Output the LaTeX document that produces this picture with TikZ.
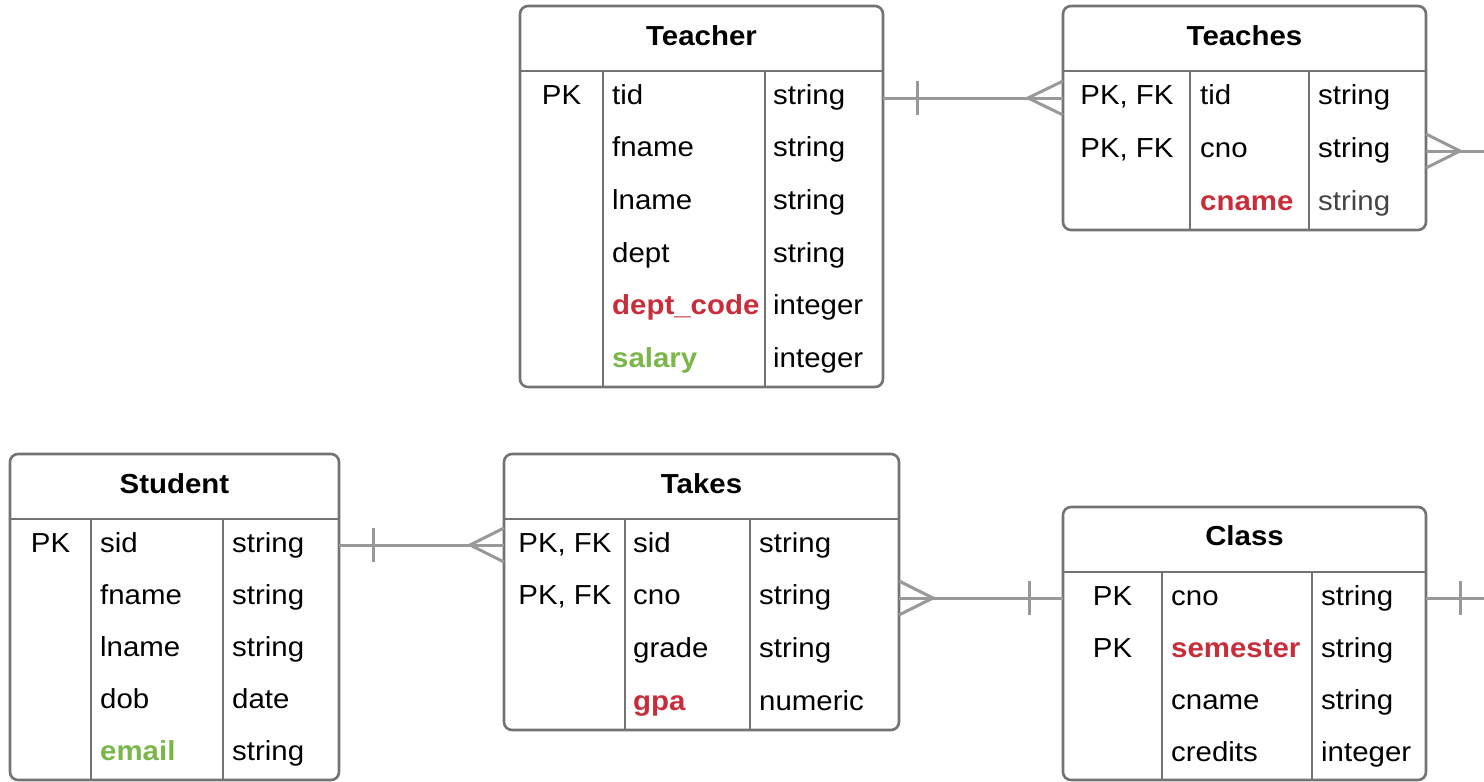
\documentclass[tikz,border=0pt]{standalone}
\usepackage{fontspec}
\setmainfont[FakeStretch=1.07]{Liberation Sans}
\usetikzlibrary{calc}
\definecolor{bord}{HTML}{737373}
\definecolor{connc}{HTML}{999999}
\definecolor{kred}{HTML}{C92D39}
\definecolor{kgreen}{HTML}{7AB648}
\definecolor{dgray}{HTML}{444444}
\tikzset{
  tbl/.style={draw=bord, line width=2.6pt, rounded corners=8pt, anchor=north west, inner sep=0pt, outer sep=0pt, fill=white},
  sepline/.style={draw=bord, line width=2.6pt},
  txt/.style={anchor=base west, inner sep=0pt, font=\fontsize{27.5}{32}\selectfont},
  ktxt/.style={anchor=base, inner sep=0pt, font=\fontsize{27.5}{32}\selectfont},
  hdr/.style={anchor=base, inner sep=0pt, font=\fontsize{27.5}{32}\selectfont\bfseries},
  kr/.style={text=kred, font=\fontsize{27.5}{32}\selectfont\bfseries},
  kg/.style={text=kgreen, font=\fontsize{27.5}{32}\selectfont\bfseries},
  conn/.style={draw=connc, line width=3pt},
}
\newcommand\fld[5]{\node[txt,#4] (#1) at (#2,#3) {#5};}
\newcommand\key[4]{\node[ktxt] (#1) at (#2,#3) {#4};}
\begin{document}
\begin{tikzpicture}[x=1pt,y=-1pt]
\useasboundingbox (0,0) rectangle (1484,782);

% ---------------- Teacher ----------------
\node[tbl, minimum width=363pt, minimum height=381pt] (teacher) at (520,6) {};
\draw[sepline] (520,71) -- (883,71);
\draw[sepline] (603,71) -- (603,387);
\draw[sepline] (765,71) -- (765,387);
\node[hdr] (teacher-h) at (701.5,45) {Teacher};
\key{teacher-k1}{561.5}{104}{PK}
\fld{teacher-n1}{612}{104}{}{tid}      \fld{teacher-t1}{773}{104}{}{string}
\fld{teacher-n2}{612}{156.7}{}{fname}  \fld{teacher-t2}{773}{156.7}{}{string}
\fld{teacher-n3}{612}{209.3}{}{lname}  \fld{teacher-t3}{773}{209.3}{}{string}
\fld{teacher-n4}{612}{262}{}{dept}     \fld{teacher-t4}{773}{262}{}{string}
\fld{teacher-n5}{612}{314.7}{kr}{dept\_code} \fld{teacher-t5}{773}{314.7}{}{integer}
\fld{teacher-n6}{612}{367.3}{kg}{salary} \fld{teacher-t6}{773}{367.3}{}{integer}

% ---------------- Teaches ----------------
\node[tbl, minimum width=363pt, minimum height=224pt] (teaches) at (1063,6) {};
\draw[sepline] (1063,71) -- (1426,71);
\draw[sepline] (1190,71) -- (1190,230);
\draw[sepline] (1309,71) -- (1309,230);
\node[hdr] (teaches-h) at (1244.5,45) {Teaches};
\key{teaches-k1}{1127}{104}{PK, FK}
\key{teaches-k2}{1127}{157}{PK, FK}
\fld{teaches-n1}{1200}{104}{}{tid}   \fld{teaches-t1}{1318}{104}{}{string}
\fld{teaches-n2}{1200}{157}{}{cno}   \fld{teaches-t2}{1318}{157}{}{string}
\fld{teaches-n3}{1200}{210}{kr}{cname} \fld{teaches-t3}{1318}{210}{text=dgray}{string}

% ---------------- Student ----------------
\node[tbl, minimum width=329pt, minimum height=326pt] (student) at (10,454) {};
\draw[sepline] (10,519) -- (339,519);
\draw[sepline] (91,519) -- (91,780);
\draw[sepline] (223,519) -- (223,780);
\node[hdr] (student-h) at (174.5,493) {Student};
\key{student-k1}{50.5}{552}{PK}
\fld{student-n1}{100}{552}{}{sid}     \fld{student-t1}{232}{552}{}{string}
\fld{student-n2}{100}{604.2}{}{fname} \fld{student-t2}{232}{604.2}{}{string}
\fld{student-n3}{100}{656.4}{}{lname} \fld{student-t3}{232}{656.4}{}{string}
\fld{student-n4}{100}{708.6}{}{dob}   \fld{student-t4}{232}{708.6}{}{date}
\fld{student-n5}{100}{760.8}{kg}{email} \fld{student-t5}{232}{760.8}{}{string}

% ---------------- Takes ----------------
\node[tbl, minimum width=395pt, minimum height=276pt] (takes) at (504,454) {};
\draw[sepline] (504,519) -- (899,519);
\draw[sepline] (625,519) -- (625,730);
\draw[sepline] (750,519) -- (750,730);
\node[hdr] (takes-h) at (701.5,493) {Takes};
\key{takes-k1}{565}{552}{PK, FK}
\key{takes-k2}{565}{604.8}{PK, FK}
\fld{takes-n1}{633}{552}{}{sid}     \fld{takes-t1}{759}{552}{}{string}
\fld{takes-n2}{633}{604.8}{}{cno}   \fld{takes-t2}{759}{604.8}{}{string}
\fld{takes-n3}{633}{657.5}{}{grade} \fld{takes-t3}{759}{657.5}{}{string}
\fld{takes-n4}{633}{710.3}{kr}{gpa} \fld{takes-t4}{759}{710.3}{}{numeric}

% ---------------- Class ----------------
\node[tbl, minimum width=363pt, minimum height=273pt] (class) at (1063,507) {};
\draw[sepline] (1063,572) -- (1426,572);
\draw[sepline] (1162,572) -- (1162,780);
\draw[sepline] (1312,572) -- (1312,780);
\node[hdr] (class-h) at (1244.5,545) {Class};
\key{class-k1}{1112.5}{605}{PK}
\key{class-k2}{1112.5}{657}{PK}
\fld{class-n1}{1171}{605}{}{cno}        \fld{class-t1}{1321}{605}{}{string}
\fld{class-n2}{1171}{657}{kr}{semester} \fld{class-t2}{1321}{657}{}{string}
\fld{class-n3}{1171}{709}{}{cname}      \fld{class-t3}{1321}{709}{}{string}
\fld{class-n4}{1171}{761}{}{credits}    \fld{class-t4}{1321}{761}{}{integer}

% ---------------- connector end points ----------------
\coordinate (c1a) at (teacher.east |- 0,98);
\coordinate (c1b) at (teaches.west |- 0,98);
\coordinate (c2a) at (teaches.east |- 0,151);
\coordinate (c2b) at (1484,151);
\coordinate (c3a) at (student.east |- 0,545);
\coordinate (c3b) at (takes.west |- 0,545);
\coordinate (c4a) at (takes.east |- 0,598);
\coordinate (c4b) at (class.west |- 0,598);
\coordinate (c5a) at (class.east |- 0,598);
\coordinate (c5b) at (1484,598);

% Teacher -- Teaches (one to many)
\draw[conn] (c1a) -- (c1b);
\draw[conn] ($(c1a)+(34,-17)$) -- ($(c1a)+(34,17)$);
\draw[conn] ($(c1b)+(0,-17)$) -- ($(c1b)+(-35,0)$) -- ($(c1b)+(0,17)$);
% Teaches -- right (many)
\draw[conn] (c2a) -- (c2b);
\draw[conn] ($(c2a)+(0,-17)$) -- ($(c2a)+(34,0)$) -- ($(c2a)+(0,17)$);
% Student -- Takes (one to many)
\draw[conn] (c3a) -- (c3b);
\draw[conn] ($(c3a)+(34,-17)$) -- ($(c3a)+(34,17)$);
\draw[conn] ($(c3b)+(0,-17)$) -- ($(c3b)+(-34,0)$) -- ($(c3b)+(0,17)$);
% Takes -- Class (many to one)
\draw[conn] (c4a) -- (c4b);
\draw[conn] ($(c4a)+(0,-17)$) -- ($(c4a)+(34,0)$) -- ($(c4a)+(0,17)$);
\draw[conn] ($(c4b)+(-34,-17)$) -- ($(c4b)+(-34,17)$);
% Class -- right (one)
\draw[conn] (c5a) -- (c5b);
\draw[conn] ($(c5a)+(34,-17)$) -- ($(c5a)+(34,17)$);
\end{tikzpicture}
\end{document}
